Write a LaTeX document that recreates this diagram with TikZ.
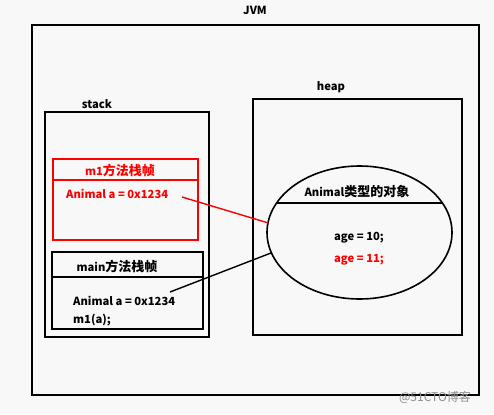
\documentclass[tikz,border=0pt]{standalone}
\usepackage{fontspec}
\setmainfont{Noto Sans CJK SC}
\usetikzlibrary{shapes.geometric,calc}
\definecolor{bg}{RGB}{248,248,248}
\definecolor{myred}{RGB}{255,0,0}
\newcommand{\cjw}[1]{{\fontsize{13}{14}\selectfont #1}}
\begin{document}
\begin{tikzpicture}[x=1pt,y=-1pt,
  box/.style={draw=black,line width=1.6pt,inner sep=0pt,outer sep=0pt},
  redbox/.style={draw=myred,line width=1.6pt,inner sep=0pt,outer sep=0pt},
  lbl/.style={font=\fontsize{11.2}{13}\selectfont\bfseries,inner sep=0pt},
  conn/.style={line width=1.4pt}]
\fill[bg] (0,0) rectangle (494,414);
\useasboundingbox (0,0) rectangle (494,414);
% boxes
\node[box,minimum width=447pt,minimum height=370pt] (jvm) at (255.5,210) {};
\node[box,minimum width=209pt,minimum height=236pt] (heap) at (357.5,217) {};
\node[box,minimum width=164pt,minimum height=225pt] (stack) at (127,224.5) {};
\node[redbox,minimum width=145pt,minimum height=81pt] (m1) at (125.5,199.5) {};
\draw[myred,line width=1.6pt] (m1.west |- 0,180) coordinate (m1sepl) -- (m1.east |- 0,180) coordinate (m1sepr);
\node[box,minimum width=151pt,minimum height=77pt] (main) at (127.5,290.5) {};
\draw[line width=1.6pt] (main.west |- 0,277) coordinate (mainsepl) -- (main.east |- 0,277) coordinate (mainsepr);
\node[draw,ellipse,line width=1.6pt,minimum width=185pt,minimum height=133pt,inner sep=0pt,outer sep=0pt] (obj) at (359.5,232.5) {};
\coordinate (chl) at ($(obj.center)+(-82.9,-29.5)$);
\coordinate (chr) at ($(obj.center)+(82.9,-29.5)$);
\draw[line width=1.6pt] (chl) -- (chr);
% labels
\node[lbl] (tjvm) at (255,10) {JVM};
\node[lbl] (theap) at (331,87) {heap};
\node[lbl] (tstack) at (97,104) {stack};
\node[lbl,text=myred] (tm1) at (120,170) {m1\cjw{方法栈帧}};
\node[lbl,text=myred,anchor=west] (tm1a) at (66,194) {Animal a = 0x1234};
\node[lbl] (tmain) at (117,266) {main\cjw{方法栈帧}};
\node[lbl,anchor=west] (tmaina) at (73,301) {Animal a = 0x1234};
\node[lbl,anchor=west] (tcall) at (73,320) {m1(a);};
\node[lbl] (tobj) at (357,192) {Animal\cjw{类型的对象}};
\node[lbl] (tage1) at (359,238) {age = 10;};
\node[lbl,text=myred] (tage2) at (359,260) {age = 11;};
\node[font=\fontsize{12}{14}\selectfont,text=black!45,inner sep=0pt] (wm) at (435,397) {@51CTO博客};
% connectors
\coordinate (r1) at (182,197);
\coordinate (b1) at (170,292);
\draw[conn,myred] (r1) -- (obj.174);
\draw[conn] (b1) -- (obj.193);
\end{tikzpicture}
\end{document}
